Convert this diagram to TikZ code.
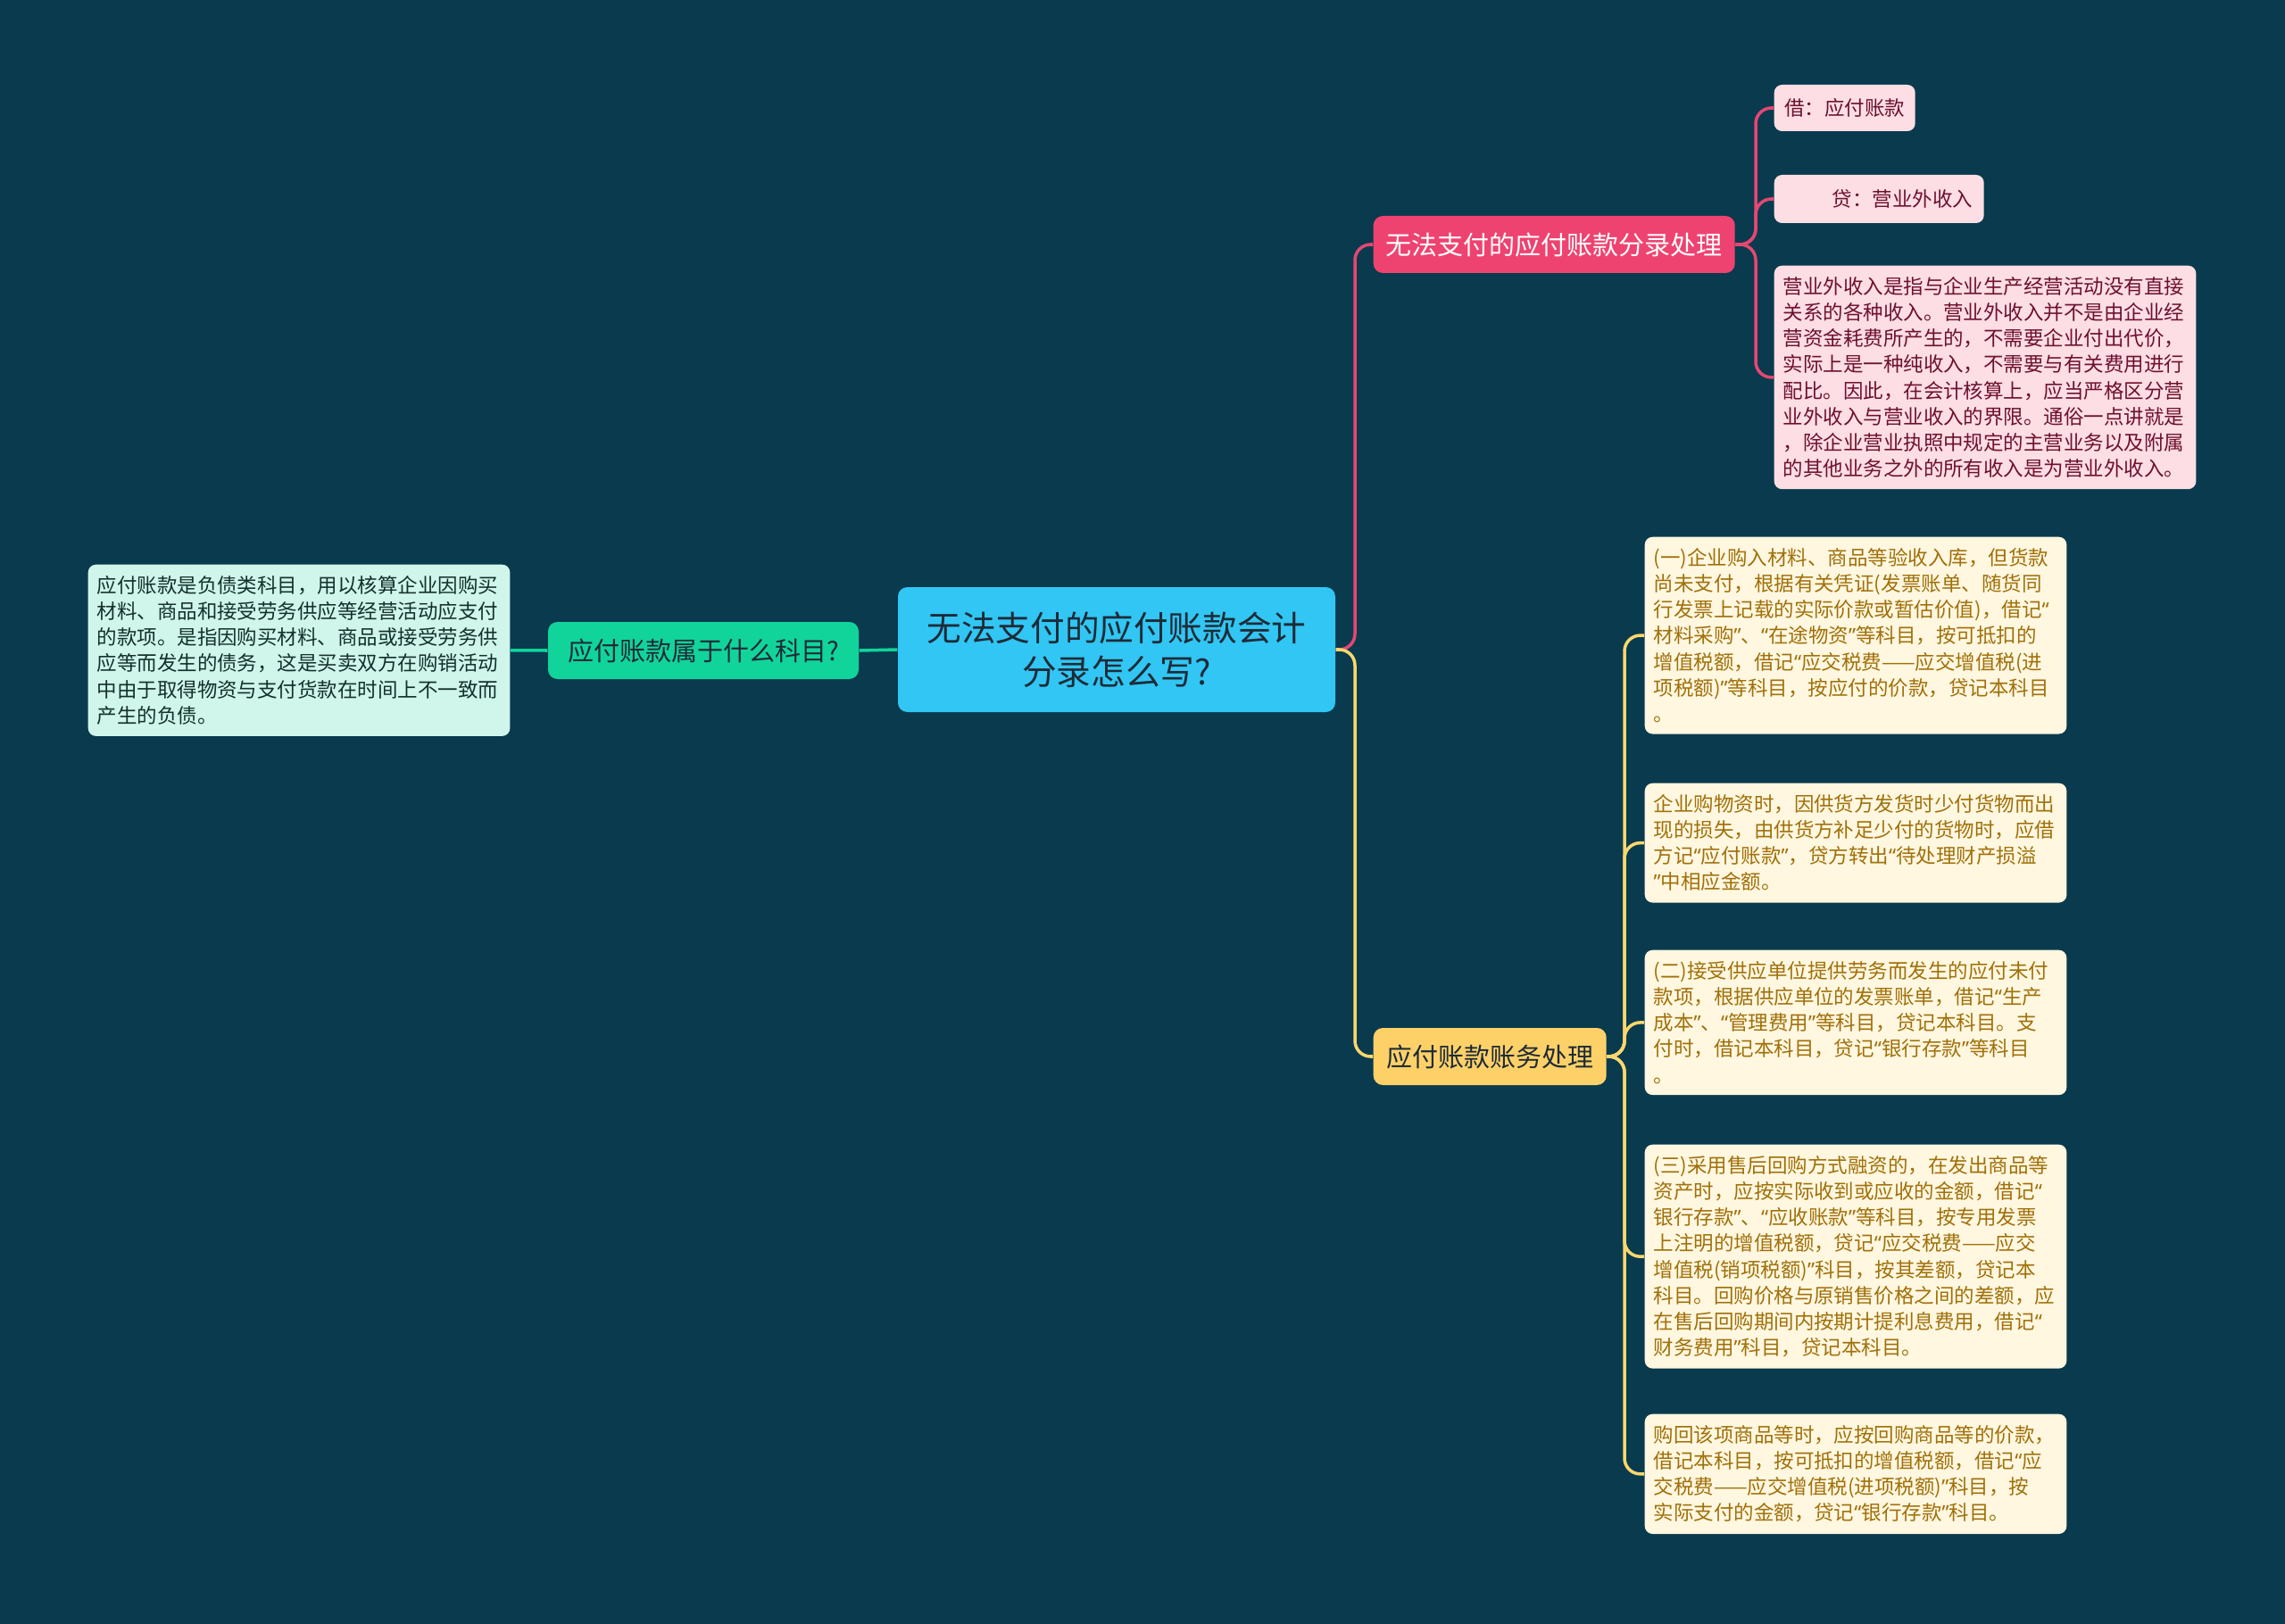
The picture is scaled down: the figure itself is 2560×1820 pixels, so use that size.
\documentclass[tikz,border=0pt]{standalone}
\usepackage{fontspec}
\newfontfamily\cjk{Noto Sans CJK SC}
\newfontfamily\quofont{Noto Sans}
\newcommand\lquo{{\quofont “}}
\newcommand\rquo{{\quofont ”}}
\usetikzlibrary{positioning}
\definecolor{bgcol}{RGB}{9,58,78}
\definecolor{rootcol}{RGB}{49,198,243}
\definecolor{roottext}{RGB}{30,43,55}
\definecolor{greencol}{RGB}{17,212,155}
\definecolor{greenleaf}{RGB}{208,246,235}
\definecolor{greentext}{RGB}{20,48,44}
\definecolor{pinkcol}{RGB}{238,67,112}
\definecolor{pinkleaf}{RGB}{252,222,228}
\definecolor{pinktext}{RGB}{110,16,48}
\definecolor{pinkline}{RGB}{229,71,115}
\definecolor{yellowcol}{RGB}{253,209,104}
\definecolor{yellowleaf}{RGB}{255,247,224}
\definecolor{yellowtext}{RGB}{160,112,10}
\definecolor{yellowline}{RGB}{250,215,110}
\tikzset{
rootnode/.style={fill=rootcol,rounded corners=3pt,minimum width=4.9cm,minimum height=1.4cm,
align=center,text=roottext,font=\cjk\fontsize{11}{13.8}\selectfont},
topic/.style={rounded corners=3pt,minimum height=0.64cm,inner sep=0pt,
font=\cjk\fontsize{8.25}{10}\selectfont},
greentopic/.style={topic,fill=greencol,text=roottext,minimum width=3.48cm},
pinktopic/.style={topic,fill=pinkcol,text=white,minimum width=4.05cm},
yellowtopic/.style={topic,fill=yellowcol,text=roottext,minimum width=2.61cm},
leaf/.style={rounded corners=2.5pt,inner xsep=2.8pt,inner ysep=3.6pt,text width=4.53cm,
align=left,font=\cjk\fontsize{6.4}{8.3}\selectfont},
greenleaf/.style={leaf,fill=greenleaf,text=greentext},
pinkleaf/.style={leaf,fill=pinkleaf,text=pinktext},
yellowleaf/.style={leaf,fill=yellowleaf,text=yellowtext},
shortleaf/.style={fill=pinkleaf,text=pinktext,rounded corners=2.5pt,inner sep=0pt,
minimum height=0.52cm,font=\cjk\fontsize{6.4}{8.3}\selectfont},
greenlink/.style={draw=greencol,line width=1pt},
pinklink/.style={draw=pinkline,line width=1pt,rounded corners=5pt},
yellowlink/.style={draw=yellowline,line width=1pt,rounded corners=5pt}
}
\begin{document}
\begin{tikzpicture}[x=0.1mm,y=-0.1mm]
\fill[bgcol] (0,0) rectangle (2560,1820);
\useasboundingbox (0,0) rectangle (2560,1820);
\node[rootnode] (root) at (1251,728) {无法支付的应付账款会计\\分录怎么写?};
\node[greentopic] (kemu) at (788,729) {应付账款属于什么科目?};
\node[greenleaf,anchor=north west] (kemutext) at (98,632) {应付账款是负债类科目，用以核算企业因购买\\
材料、商品和接受劳务供应等经营活动应支付\\
的款项。是指因购买材料、商品或接受劳务供\\
应等而发生的债务，这是买卖双方在购销活动\\
中由于取得物资与支付货款在时间上不一致而\\
产生的负债。};
\node[pinktopic,anchor=west] (fenlu) at (1538,274) {无法支付的应付账款分录处理};
\node[shortleaf,anchor=west,minimum width=1.58cm] (jie) at (1987,121) {借：应付账款};
\node[shortleaf,anchor=west,minimum width=2.35cm,minimum height=0.54cm] (dai) at (1987,223) {\hspace*{15pt}贷：营业外收入};
\node[pinkleaf,anchor=north west] (yingye) at (1987,297) {营业外收入是指与企业生产经营活动没有直接\\
关系的各种收入。营业外收入并不是由企业经\\
营资金耗费所产生的，不需要企业付出代价，\\
实际上是一种纯收入，不需要与有关费用进行\\
配比。因此，在会计核算上，应当严格区分营\\
业外收入与营业收入的界限。通俗一点讲就是\\
，除企业营业执照中规定的主营业务以及附属\\
的其他业务之外的所有收入是为营业外收入。};
\node[yellowtopic,anchor=west] (zhangwu) at (1538,1184) {应付账款账务处理};
\node[yellowleaf,anchor=north west] (yi) at (1842,601) {(一)企业购入材料、商品等验收入库，但货款\\
尚未支付，根据有关凭证(发票账单、随货同\\
行发票上记载的实际价款或暂估价值)，借记\lquo\\
材料采购\rquo{}、\lquo{}在途物资\rquo{}等科目，按可抵扣的\\
增值税额，借记\lquo{}应交税费——应交增值税(进\\
项税额)\rquo{}等科目，按应付的价款，贷记本科目\\
。};
\node[yellowleaf,anchor=north west] (shaofu) at (1842,877) {企业购物资时，因供货方发货时少付货物而出\\
现的损失，由供货方补足少付的货物时，应借\\
方记\lquo{}应付账款\rquo{}，贷方转出\lquo{}待处理财产损溢\\
\rquo{}中相应金额。};
\node[yellowleaf,anchor=north west] (er) at (1842,1064) {(二)接受供应单位提供劳务而发生的应付未付\\
款项，根据供应单位的发票账单，借记\lquo{}生产\\
成本\rquo{}、\lquo{}管理费用\rquo{}等科目，贷记本科目。支\\
付时，借记本科目，贷记\lquo{}银行存款\rquo{}等科目\\
。};
\node[yellowleaf,anchor=north west] (san) at (1842,1282) {(三)采用售后回购方式融资的，在发出商品等\\
资产时，应按实际收到或应收的金额，借记\lquo\\
银行存款\rquo{}、\lquo{}应收账款\rquo{}等科目，按专用发票\\
上注明的增值税额，贷记\lquo{}应交税费——应交\\
增值税(销项税额)\rquo{}科目，按其差额，贷记本\\
科目。回购价格与原销售价格之间的差额，应\\
在售后回购期间内按期计提利息费用，借记\lquo\\
财务费用\rquo{}科目，贷记本科目。};
\node[yellowleaf,anchor=north west] (gouhui) at (1842,1584) {购回该项商品等时，应按回购商品等的价款，\\
借记本科目，按可抵扣的增值税额，借记\lquo{}应\\
交税费——应交增值税(进项税额)\rquo{}科目，按\\
实际支付的金额，贷记\lquo{}银行存款\rquo{}科目。};
\coordinate (rootjoin) at (1518,728);
\coordinate (pinkjoin) at (1967,274);
\coordinate (yellowjoin) at (1820,1184);
\draw[greenlink] (kemutext.east) -- (kemu.west);
\draw[greenlink] (kemu.east) -- (root.west);
\draw[pinklink] (root.east) -- (rootjoin) |- (fenlu.west);
\draw[yellowlink] (root.east) -- (rootjoin) |- (zhangwu.west);
\draw[pinklink] (fenlu.east) -- (pinkjoin) |- (jie.west);
\draw[pinklink] (fenlu.east) -- (pinkjoin) |- (dai.west);
\draw[pinklink] (fenlu.east) -- (pinkjoin) |- (yingye.west);
\foreach \leafname in {yi,shaofu,er,san,gouhui}
\draw[yellowlink] (zhangwu.east) -- (yellowjoin) |- (\leafname.west);
\end{tikzpicture}
\end{document}
